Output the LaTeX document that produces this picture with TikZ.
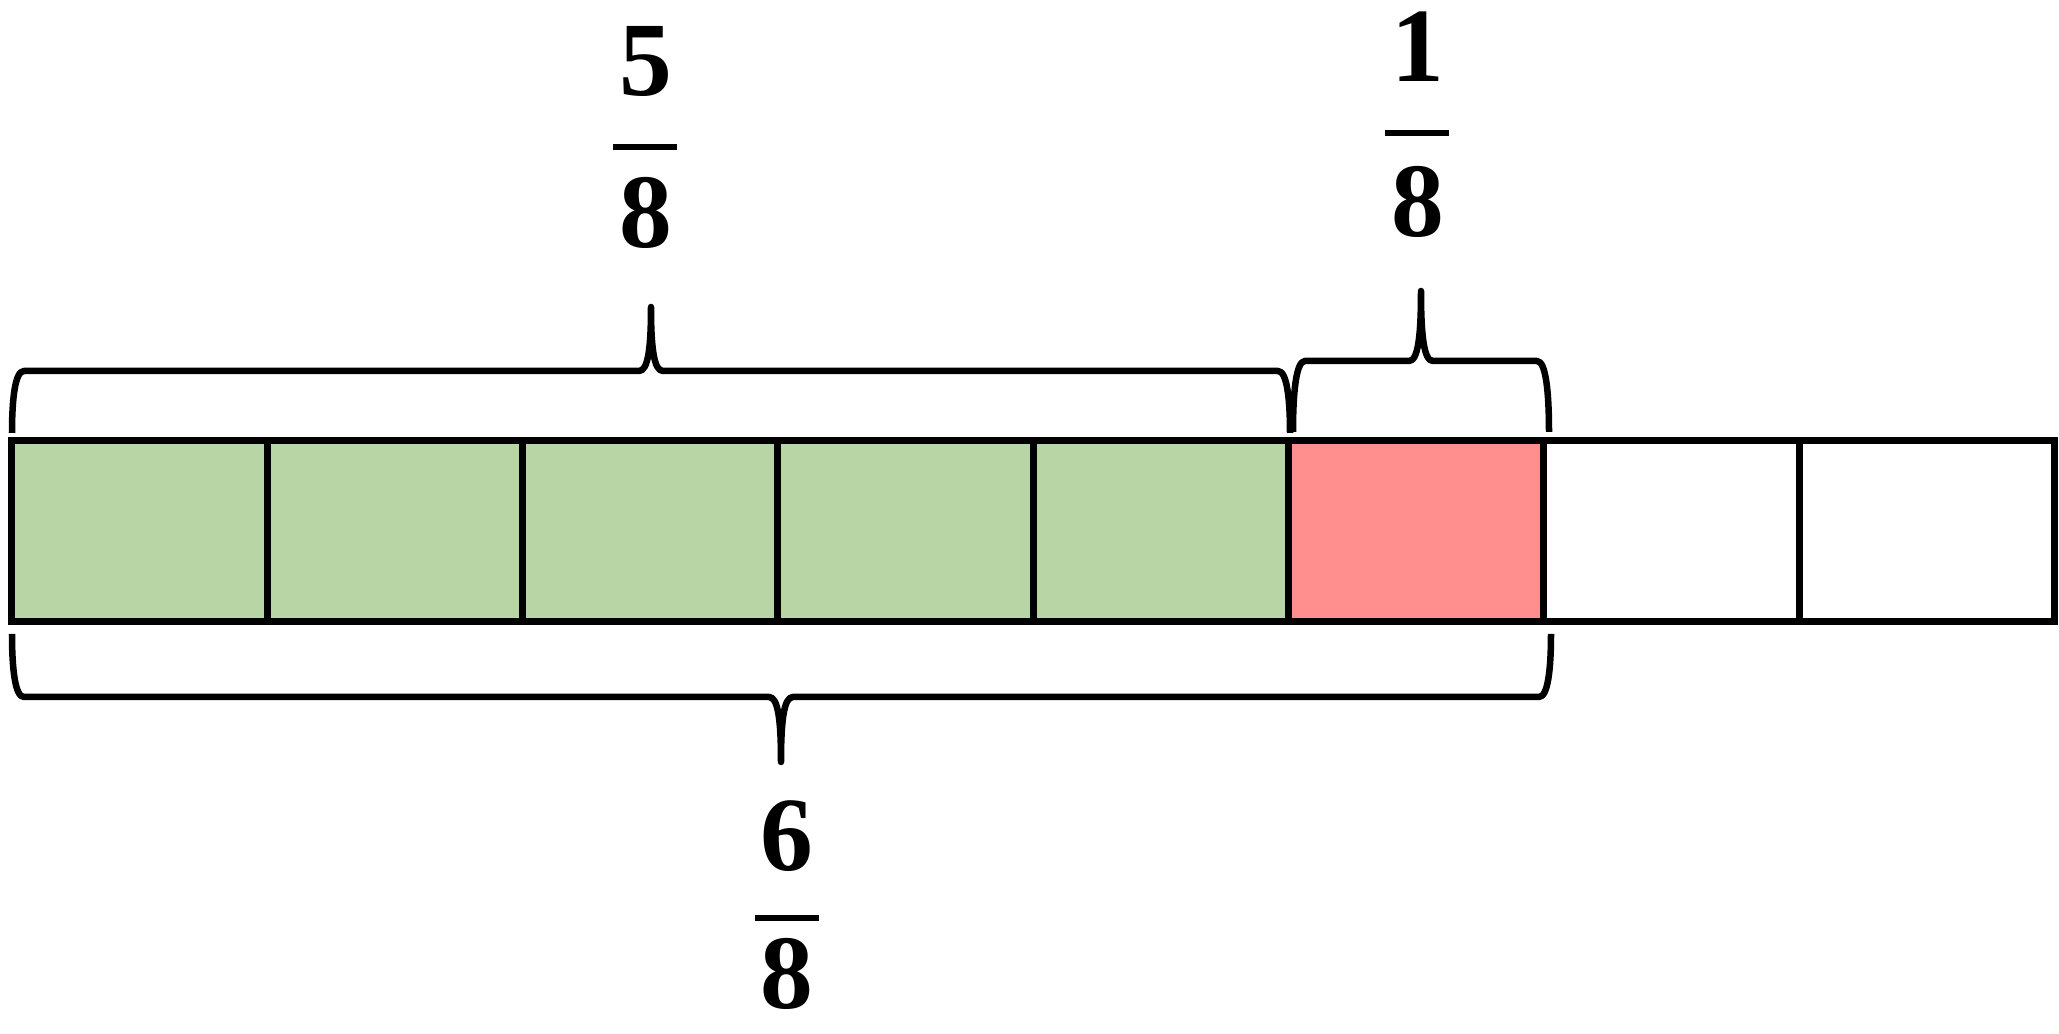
\documentclass[tikz,border=0pt]{standalone}
\usepackage{fontspec}
\setmainfont{Liberation Serif}
\newcommand\fracbrace[6]{% x0, x1, xm, y end, y horizontal, y tip
  \draw[bracestyle] (#1,#4) .. controls (#1,{#5+0.45*(#4-#5)}) and ({#1+3},#5) .. ({#1+12},#5)
    -- ({#3-12},#5) .. controls ({#3-3},#5) and (#3,{#5+0.35*(#6-#5)}) .. (#3,#6)
    .. controls (#3,{#5+0.35*(#6-#5)}) and ({#3+3},#5) .. ({#3+12},#5)
    -- ({#2-12},#5) .. controls ({#2-3},#5) and (#2,{#5+0.45*(#4-#5)}) .. (#2,#4);}
\begin{document}
\begin{tikzpicture}[x=0.01cm,y=-0.01cm,
  cell/.style={draw=black,line width=0.07cm,minimum width=2.553cm,minimum height=1.8cm,
    inner sep=0pt,outer sep=0pt,anchor=center},
  num/.style={font=\fontsize{30}{36}\selectfont\bfseries,inner sep=0pt,anchor=center},
  fbar/.style={fill=black,minimum width=0.64cm,minimum height=0.06cm,inner sep=0pt,outer sep=0pt},
  bracestyle/.style={line width=0.065cm,line join=round}]
\useasboundingbox (0,0) rectangle (2059,1034);
\definecolor{cgreen}{RGB}{184,214,165}
\definecolor{cred}{RGB}{255,143,143}
% cells
\foreach \i/\col in {1/cgreen,2/cgreen,3/cgreen,4/cgreen,5/cgreen,6/cred,7/white,8/white}{
  \pgfmathsetmacro\cx{12+255.3*(\i-0.5)}
  \node[cell,fill=\col] (c\i) at (\cx,531) {};
}
% braces
\fracbrace{12}{1290}{651}{433}{371}{307}
\fracbrace{1293}{1549}{1421}{432}{361}{291}
\fracbrace{12}{1551}{781}{634}{697}{762}
% fractions
\node[num] (n5) at (646,61) {5};
\node[fbar] (b5) at (645,147) {};
\node[num] (d5) at (646,213) {8};
\node[num] (n1) at (1418,47) {1};
\node[fbar] (b1) at (1417,133) {};
\node[num] (d1) at (1418,202) {8};
\node[num] (n6) at (787,836) {6};
\node[fbar] (b6) at (787,918) {};
\node[num] (d6) at (787,974) {8};
\end{tikzpicture}
\end{document}
